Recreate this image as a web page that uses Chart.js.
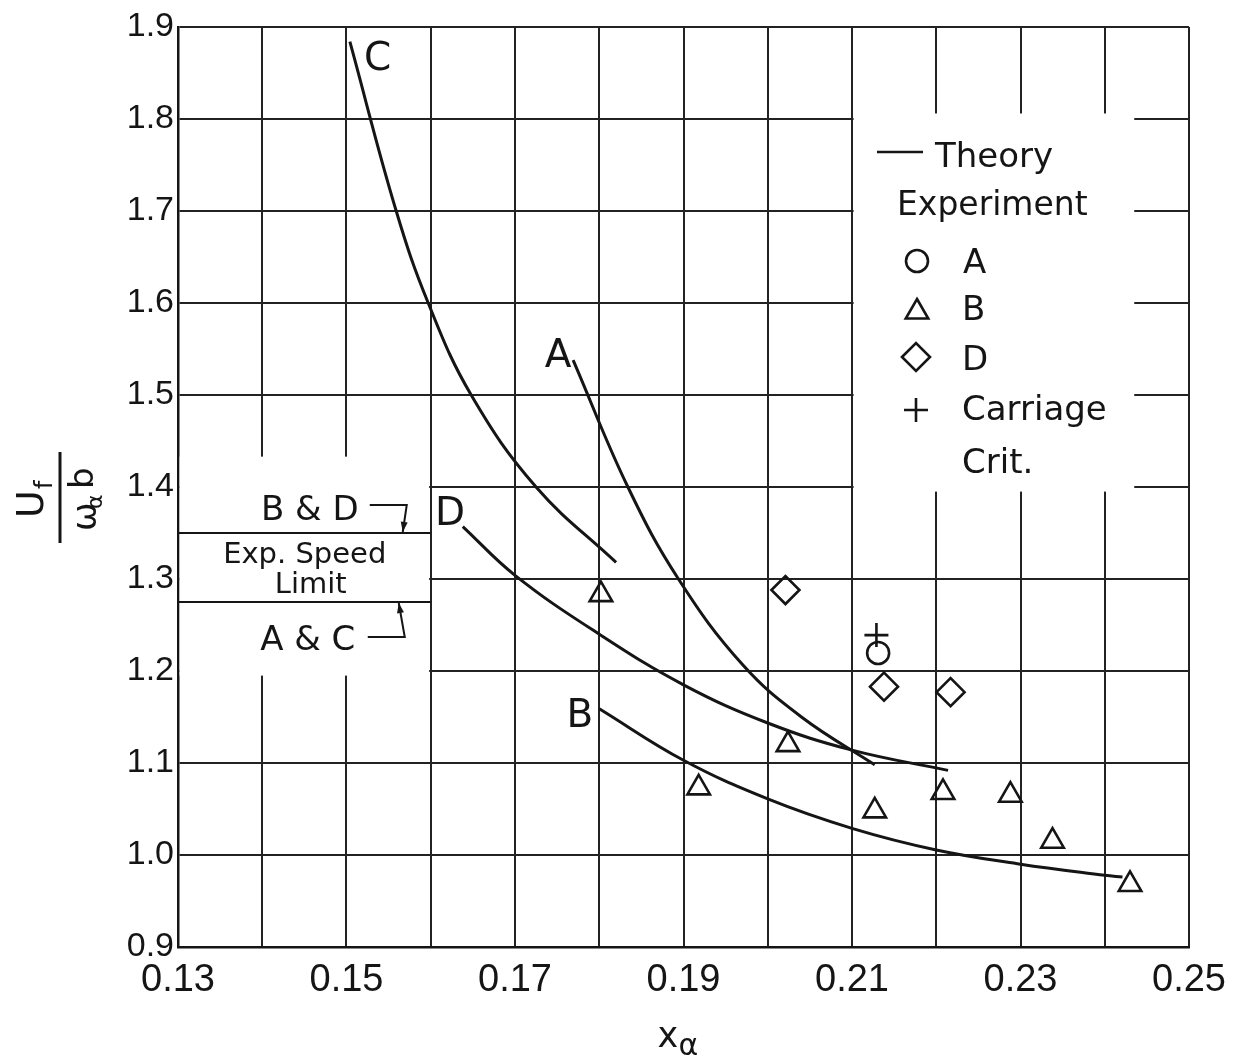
<!DOCTYPE html>
<html><head><meta charset="utf-8">
<script src="https://cdn.jsdelivr.net/npm/chart.js@4/dist/chart.umd.min.js"></script>
<style>html,body{margin:0;padding:0;background:#fff;overflow:hidden}</style>
</head><body>
<canvas id="c" width="1239" height="1062"></canvas>
<script>
// ---------- axes ----------
const xMin = 0.13, xMax = 0.25, xStep = 0.01;
const yMin = 0.9, yMax = 1.9, yStep = 0.1;

// ---------- theory curves ----------
const theoryC_x = [0.1504, 0.1559, 0.1597, 0.1648, 0.1725, 0.1820];
const theoryC_y = [1.884, 1.700, 1.600, 1.500, 1.400, 1.318];
const theoryA_x = [0.1769, 0.1834, 0.1894, 0.1970, 0.2040, 0.2127];
const theoryA_y = [1.538, 1.400, 1.300, 1.207, 1.150, 1.098];
const theoryD_x = [0.1638, 0.1700, 0.1800, 0.1900, 0.2000, 0.2100, 0.2214];
const theoryD_y = [1.357, 1.304, 1.240, 1.185, 1.1435, 1.114, 1.092];
const theoryB_x = [0.1800, 0.1900, 0.2000, 0.2100, 0.2200, 0.2300, 0.2400, 0.2421];
const theoryB_y = [1.159, 1.103, 1.061, 1.029, 1.0055, 0.990, 0.978, 0.976];

// ---------- experiment ----------
const expA_x = [0.2131];
const expA_y = [1.2196];
const expB_x = [0.1802, 0.1918, 0.2024, 0.2127, 0.2208, 0.2288, 0.2338, 0.2430];
const expB_y = [1.283, 1.073, 1.120, 1.048, 1.068, 1.065, 1.015, 0.968];
const expD_x = [0.2021, 0.2138, 0.2217];
const expD_y = [1.288, 1.183, 1.177];
const carriage_x = [0.2129];
const carriage_y = [1.239];

// ---------- experimental speed limits ----------
const limitRange_x = [0.13, 0.16];
const limitBD = 1.35;
const limitAC = 1.275;

// ---------- white panels (axis units) ----------
const leftPanel_x = [0.13, 0.16], leftPanel_y = [1.195, 1.433];
const rightPanel_x = [0.21, 0.2435], rightPanel_y = [1.395, 1.806];

const INK = '#151515';
const ANN = "'DejaVu Sans', sans-serif";
const TICKF = "'Liberation Sans', sans-serif";

function pts(xs, ys) { return xs.map((v, i) => ({x: v, y: ys[i]})); }

function curve(label, xs, ys) {
  return {label, data: pts(xs, ys), showLine: true, borderColor: INK, borderWidth: 3,
          pointRadius: 0, tension: 0.4, fill: false, order: 5};
}
function marks(label, xs, ys, style, r) {
  return {label, data: pts(xs, ys), showLine: false, pointStyle: style, pointRadius: r,
          borderColor: INK, backgroundColor: 'rgba(0,0,0,0)', pointBorderWidth: 2.6, order: 1};
}

function txt(ctx, s, x, y, size, align, family) {
  ctx.font = size + 'px ' + (family || ANN);
  ctx.textAlign = align || 'left';
  ctx.textBaseline = 'alphabetic';
  ctx.fillStyle = INK;
  ctx.fillText(s, x, y);
}
function seg(ctx, pts, w) {
  ctx.beginPath();
  ctx.moveTo(pts[0][0], pts[0][1]);
  for (let i = 1; i < pts.length; i++) ctx.lineTo(pts[i][0], pts[i][1]);
  ctx.lineWidth = w || 2; ctx.strokeStyle = INK; ctx.stroke();
}
function head(ctx, fx, fy, tx, ty) {
  const ang = Math.atan2(ty - fy, tx - fx), L = 10, W = 3.5;
  ctx.beginPath();
  ctx.moveTo(tx, ty);
  ctx.lineTo(tx - L * Math.cos(ang) + W * Math.sin(ang), ty - L * Math.sin(ang) - W * Math.cos(ang));
  ctx.lineTo(tx - L * Math.cos(ang) - W * Math.sin(ang), ty - L * Math.sin(ang) + W * Math.cos(ang));
  ctx.closePath(); ctx.fillStyle = INK; ctx.fill();
}
function legendMarker(ctx, style, x, y, r) {
  ctx.save(); ctx.strokeStyle = INK; ctx.lineWidth = 2.6; ctx.beginPath();
  if (style === 'circle') { ctx.arc(x, y, r, 0, Math.PI * 2); }
  else if (style === 'triangle') {
    ctx.moveTo(x, y - r);
    ctx.lineTo(x + Math.sin(2 * Math.PI / 3) * r, y + r / 2);
    ctx.lineTo(x - Math.sin(2 * Math.PI / 3) * r, y + r / 2);
    ctx.closePath();
  } else if (style === 'rectRot') {
    ctx.moveTo(x - r, y); ctx.lineTo(x, y - r); ctx.lineTo(x + r, y); ctx.lineTo(x, y + r); ctx.closePath();
  } else if (style === 'cross') {
    ctx.moveTo(x, y - r); ctx.lineTo(x, y + r); ctx.moveTo(x - r, y); ctx.lineTo(x + r, y);
  }
  ctx.stroke(); ctx.restore();
}

const overlay = {
  id: 'overlay',
  beforeDatasetsDraw(chart) {
    const {ctx, scales: {x, y}, chartArea: a} = chart;
    ctx.save();
    ctx.fillStyle = '#ffffff';
    let x0 = a.left + 1.6, x1 = x.getPixelForValue(leftPanel_x[1]) - 1.6;
    let y0 = y.getPixelForValue(leftPanel_y[1]), y1 = y.getPixelForValue(leftPanel_y[0]);
    ctx.fillRect(x0, y0, x1 - x0, y1 - y0);
    x0 = x.getPixelForValue(rightPanel_x[0]) + 1.6; x1 = x.getPixelForValue(rightPanel_x[1]);
    y0 = y.getPixelForValue(rightPanel_y[1]); y1 = y.getPixelForValue(rightPanel_y[0]);
    ctx.fillRect(x0, y0, x1 - x0, y1 - y0);
    ctx.restore();
  },
  afterDatasetsDraw(chart) {
    const {ctx, scales: {x, y}, chartArea: a} = chart;
    const X = v => x.getPixelForValue(v), Y = v => y.getPixelForValue(v);
    ctx.save();
    // curve labels
    txt(ctx, 'C', X(0.1537), Y(1.853), 39, 'center');
    txt(ctx, 'A', X(0.1751), Y(1.530), 39, 'center');
    txt(ctx, 'D', X(0.1623), Y(1.359), 39, 'center');
    txt(ctx, 'B', X(0.1777), Y(1.139), 39, 'center');

    // speed-limit annotation
    const gx = X(limitRange_x[1]);
    const yBD = Y(limitBD), yAC = Y(limitAC);
    txt(ctx, 'B & D', gx - 121, yBD - 13, 34, 'center');
    txt(ctx, 'Exp. Speed', gx - 126, yBD + 30, 29, 'center');
    txt(ctx, 'Limit', gx - 120, yAC - 9, 29, 'center');
    txt(ctx, 'A & C', gx - 123, yAC + 48, 34, 'center');
    seg(ctx, [[gx - 61, yBD - 28], [gx - 24, yBD - 28], [gx - 28, yBD - 1]], 2);
    head(ctx, gx - 24, yBD - 28, gx - 28, yBD - 1);
    seg(ctx, [[gx - 63, yAC + 35], [gx - 26, yAC + 35], [gx - 32, yAC + 1]], 2);
    head(ctx, gx - 26, yAC + 35, gx - 32, yAC + 1);

    // legend
    const lx = X(0.21), ly = Y(1.8);
    seg(ctx, [[lx + 25, ly + 33], [lx + 71, ly + 33]], 2.5);
    txt(ctx, 'Theory', lx + 83, ly + 48, 34);
    txt(ctx, 'Experiment', lx + 45, ly + 96, 33);
    legendMarker(ctx, 'circle', lx + 65, ly + 142, 11);
    txt(ctx, 'A', lx + 111, ly + 154, 34);
    legendMarker(ctx, 'triangle', lx + 65, ly + 193, 13);
    txt(ctx, 'B', lx + 110, ly + 201, 34);
    legendMarker(ctx, 'rectRot', lx + 64, ly + 238, 14);
    txt(ctx, 'D', lx + 110, ly + 251, 34);
    legendMarker(ctx, 'cross', lx + 64, ly + 291, 12);
    txt(ctx, 'Carriage', lx + 110, ly + 301, 34);
    txt(ctx, 'Crit.', lx + 110, ly + 354, 34);

    // x axis title
    const cx = (a.left + a.right) / 2;
    txt(ctx, 'x', cx - 26, a.bottom + 100, 35);
    txt(ctx, 'α', cx - 5, a.bottom + 108, 30);

    // y axis title (rotated fraction)
    ctx.translate(60, (a.top + a.bottom) / 2 + 10);
    ctx.rotate(-Math.PI / 2);
    seg(ctx, [[-46, 0], [45, 0]], 3);
    txt(ctx, 'U', -21, -17, 38);
    txt(ctx, 'f', 8, -8, 24);
    txt(ctx, 'ω', -34, 36, 34);
    txt(ctx, 'α', -12, 42, 22);
    txt(ctx, 'b', 8, 33, 34);
    ctx.restore();
  }
};

new Chart(document.getElementById('c'), {
  type: 'scatter',
  data: {
    datasets: [
      marks('Experiment A', expA_x, expA_y, 'circle', 11),
      marks('Experiment B', expB_x, expB_y, 'triangle', 13),
      marks('Experiment D', expD_x, expD_y, 'rectRot', 14),
      marks('Carriage Crit.', carriage_x, carriage_y, 'cross', 12),
      curve('Theory C', theoryC_x, theoryC_y),
      curve('Theory A', theoryA_x, theoryA_y),
      curve('Theory D', theoryD_x, theoryD_y),
      curve('Theory B', theoryB_x, theoryB_y),
      {label: 'Limit B & D', data: pts(limitRange_x, [limitBD, limitBD]), showLine: true,
       borderColor: INK, borderWidth: 2.2, pointRadius: 0, order: 6},
      {label: 'Limit A & C', data: pts(limitRange_x, [limitAC, limitAC]), showLine: true,
       borderColor: INK, borderWidth: 2.2, pointRadius: 0, order: 6}
    ]
  },
  options: {
    responsive: false, animation: false, devicePixelRatio: 1,
    layout: {padding: {top: 27, right: 50, left: 0, bottom: 0}},
    plugins: {legend: {display: false}, tooltip: {enabled: false}},
    scales: {
      x: {
        type: 'linear', min: xMin, max: xMax,
        afterFit(s) { s.height = 115; },
        grid: {color: '#222', lineWidth: 2, drawTicks: false},
        border: {color: INK, width: 2.5},
        ticks: {stepSize: xStep, autoSkip: false, maxRotation: 0, padding: 11, color: INK,
                font: {family: TICKF, size: 38},
                callback(v) { const k = Math.round(v * 100); return k % 2 === 1 ? v.toFixed(2) : ''; }}
      },
      y: {
        type: 'linear', min: yMin, max: yMax,
        afterFit(s) { s.width = 178; },
        grid: {color: '#222', lineWidth: 2, drawTicks: false},
        border: {color: INK, width: 2.5},
        ticks: {stepSize: yStep, padding: 4, color: INK, font: {family: TICKF, size: 34},
                callback(v) { return v.toFixed(1); }}
      }
    }
  },
  plugins: [overlay]
});
</script>
</body></html>
